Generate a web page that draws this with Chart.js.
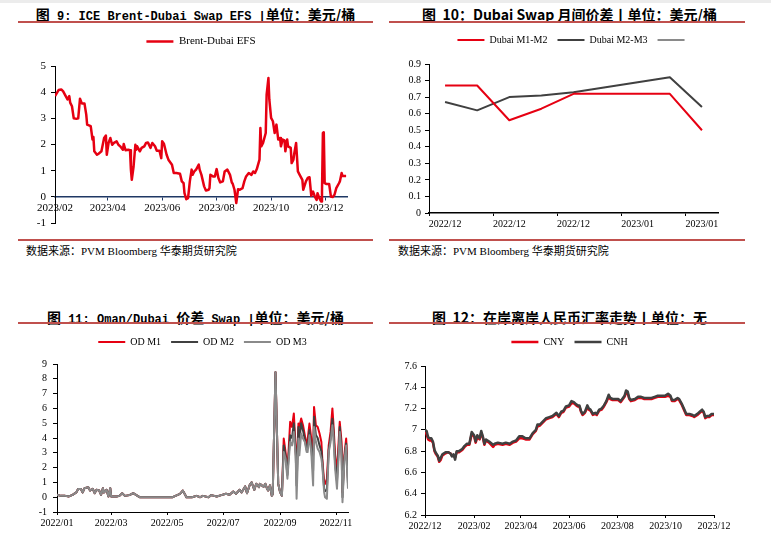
<!DOCTYPE html>
<html>
<head>
<meta charset="utf-8">
<script src="https://cdn.jsdelivr.net/npm/chart.js@4.4.1/dist/chart.umd.min.js"></script>
<style>
  html, body { margin: 0; padding: 0; background: #fff; }
  #page { position: relative; width: 771px; height: 537px; overflow: hidden; }
  .topband { position: absolute; left: 0; top: 0; width: 771px; height: 3px; background: #ececec; }
  .title { position: absolute; white-space: nowrap; text-align: center; color: #000; height: 18px; line-height: 18px; }
  .mono { font: bold 12px "Liberation Mono", "DejaVu Sans Mono", monospace; }
  .zh { font: bold 14px "Noto Sans CJK SC", sans-serif; }
  .rule { position: absolute; height: 2px; background: #c0504d; }
  .src { position: absolute; font: 11px "Liberation Serif", "Noto Sans CJK SC", serif; color: #000; white-space: nowrap; line-height: 14px; }
  .box { position: absolute; }
</style>
</head>
<body>
<div id="page">
  <div class="topband"></div>

  <div class="title mono" style="left:18px;top:4px;width:355px;"><span class="zh">图</span> 9: ICE Brent-Dubai Swap EFS |<span class="zh">单位：美元/桶</span></div>
  <div class="rule" style="left:18px;top:21px;width:355px;"></div>
  <div class="box" style="left:18px;top:26px;width:355px;height:210px;"><canvas id="efsChart"></canvas></div>
  <div class="rule" style="left:18px;top:239px;width:355px;"></div>
  <div class="src" style="left:26px;top:244px;">数据来源：PVM Bloomberg 华泰期货研究院</div>

  <div class="title zh" style="left:389px;top:4px;width:361px;">图&nbsp;&nbsp;10：Dubai Swap 月间价差丨单位：美元/桶</div>
  <div class="rule" style="left:389px;top:21px;width:356px;"></div>
  <div class="box" style="left:389px;top:25px;width:361px;height:211px;"><canvas id="spreadChart"></canvas></div>
  <div class="rule" style="left:389px;top:239px;width:356px;"></div>
  <div class="src" style="left:398px;top:244px;">数据来源：PVM Bloomberg 华泰期货研究院</div>

  <div class="title mono" style="left:18px;top:307px;width:355px;"><span class="zh">图</span> 11: Oman/Dubai <span class="zh">价差</span> Swap |<span class="zh">单位：美元/桶</span></div>
  <div class="rule" style="left:18px;top:322px;width:355px;"></div>
  <div class="box" style="left:18px;top:327px;width:355px;height:210px;"><canvas id="odChart"></canvas></div>

  <div class="title zh" style="left:389px;top:307px;width:361px;">图&nbsp;&nbsp;12：在岸离岸人民币汇率走势丨单位：无</div>
  <div class="rule" style="left:389px;top:322px;width:356px;"></div>
  <div class="box" style="left:389px;top:327px;width:361px;height:210px;"><canvas id="fxChart"></canvas></div>
</div>

<script>
// 图 9: ICE Brent-Dubai EFS
const efsDates = [
  '2023-02-01','2023-02-05','2023-02-08','2023-02-10','2023-02-13','2023-02-15','2023-02-17','2023-02-18','2023-02-20','2023-02-22',
  '2023-02-25','2023-02-27','2023-03-01','2023-03-03','2023-03-06','2023-03-08','2023-03-09','2023-03-13','2023-03-15','2023-03-16',
  '2023-03-17','2023-03-20','2023-03-22','2023-03-25','2023-03-28','2023-03-30','2023-03-31','2023-04-02','2023-04-04','2023-04-06',
  '2023-04-08','2023-04-11','2023-04-13','2023-04-15','2023-04-18','2023-04-19','2023-04-21','2023-04-24','2023-04-26','2023-04-27',
  '2023-04-28','2023-04-30','2023-05-02','2023-05-03','2023-05-04','2023-05-07','2023-05-09','2023-05-12','2023-05-14','2023-05-16',
  '2023-05-19','2023-05-21','2023-05-24','2023-05-26','2023-05-29','2023-05-31','2023-06-01','2023-06-03','2023-06-06','2023-06-08',
  '2023-06-12','2023-06-14','2023-06-17','2023-06-21','2023-06-23','2023-06-25','2023-06-26','2023-06-28','2023-06-30','2023-07-02',
  '2023-07-04','2023-07-05','2023-07-07','2023-07-09','2023-07-12','2023-07-13','2023-07-15','2023-07-18','2023-07-20','2023-07-23',
  '2023-07-24','2023-07-25','2023-07-28','2023-07-30','2023-08-01','2023-08-03','2023-08-05','2023-08-08','2023-08-10','2023-08-13',
  '2023-08-16','2023-08-18','2023-08-19','2023-08-21','2023-08-23','2023-08-25','2023-08-27','2023-08-30','2023-09-01','2023-09-03',
  '2023-09-06','2023-09-09','2023-09-11','2023-09-13','2023-09-15','2023-09-18','2023-09-19','2023-09-20','2023-09-22','2023-09-25',
  '2023-09-26','2023-09-28','2023-09-29','2023-10-01','2023-10-03','2023-10-05','2023-10-07','2023-10-09','2023-10-11','2023-10-12',
  '2023-10-14','2023-10-16','2023-10-17','2023-10-19','2023-10-20','2023-10-23','2023-10-24','2023-10-26','2023-10-27','2023-10-29',
  '2023-10-31','2023-11-02','2023-11-05','2023-11-06','2023-11-09','2023-11-11','2023-11-13','2023-11-15','2023-11-17','2023-11-19',
  '2023-11-21','2023-11-22','2023-11-24','2023-11-26','2023-11-27','2023-11-28','2023-11-29','2023-11-30','2023-12-02','2023-12-05',
  '2023-12-07','2023-12-09','2023-12-11','2023-12-13','2023-12-16','2023-12-17','2023-12-19','2023-12-20','2023-12-24'
];
const efsValues = [
  3.85, 4.08, 4.10, 4.04, 3.85, 3.72, 3.85, 3.60, 3.46, 3.00,
  2.98, 3.00, 3.75, 3.57, 3.57, 3.14, 2.76, 2.70, 2.19, 2.29,
  1.74, 1.61, 1.65, 1.74, 2.25, 2.34, 1.61, 2.06, 2.25, 1.99,
  2.06, 2.12, 1.99, 1.93, 1.80, 2.02, 1.78, 1.80, 1.78, 1.04,
  0.65, 1.16, 1.99, 1.80, 1.93, 1.74, 1.87, 1.93, 2.06, 2.08,
  1.87, 2.06, 1.93, 1.76, 1.76, 1.48, 2.12, 2.03, 1.61, 1.42,
  1.23, 0.91, 0.91, 0.88, 0.59, 0.52, 0.14, -0.09, -0.05, 0.59,
  1.04, 0.84, 0.97, 1.04, 1.23, 1.04, 0.84, 0.40, 0.24, 0.27,
  0.33, 0.84, 0.78, 0.78, 1.06, 0.72, 0.55, 0.59, 0.97, 1.04,
  0.84, 0.55, 0.50, 0.27, -0.24, 0.29, 0.27, 0.33, 0.59, 0.78,
  0.91, 0.84, 0.97, 0.91, 1.06, 1.42, 2.63, 1.93, 2.06, 2.44,
  3.91, 4.54, 3.72, 3.02, 2.89, 2.44, 2.76, 2.19, 2.25, 1.93,
  2.19, 2.16, 1.74, 2.19, 1.93, 1.87, 1.29, 1.42, 1.67, 2.06,
  0.97, 0.84, 0.65, 0.27, 0.59, 0.72, 0.75, 0.04, 0.20, 0.01,
  -0.12, 0.14, -0.05, -0.18, 0.20, 2.44, 2.47, 0.52, 0.49, 0.49,
  0.01, -0.01, 0.08, 0.33, 0.52, 0.59, 0.91, 0.80, 0.80
];
const efsTicks = ['2023/02', '2023/04', '2023/06', '2023/08', '2023/10', '2023/12'];

// 图 10: Dubai Swap 月间价差
const spreadLabels = ['2022/12', '2022/12', '2022/12', '2022/12', '2022/12', '2023/01', '2023/01', '2023/01', '2023/01'];
const dubaiM1M2 = [0.77, 0.77, 0.56, 0.63, 0.72, 0.72, 0.72, 0.72, 0.50];
const dubaiM2M3 = [0.67, 0.62, 0.70, 0.71, 0.73, 0.76, 0.79, 0.82, 0.64];

// 图 11: Oman/Dubai 价差 Swap (the three months overlap until early September)
const odSharedDates = [
  '2022-01-01','2022-01-05','2022-01-10','2022-01-14','2022-01-18','2022-01-22','2022-01-24','2022-01-27','2022-01-29','2022-01-31',
  '2022-02-04','2022-02-06','2022-02-09','2022-02-11','2022-02-13','2022-02-16','2022-02-18','2022-02-20','2022-02-21','2022-02-24',
  '2022-02-26','2022-02-28','2022-03-01','2022-03-07','2022-03-10','2022-03-13','2022-03-16','2022-03-21','2022-03-25','2022-03-28',
  '2022-04-01','2022-04-12','2022-04-26','2022-05-07','2022-05-10','2022-05-15','2022-05-18','2022-05-20','2022-05-22','2022-05-28',
  '2022-06-02','2022-06-06','2022-06-09','2022-06-15','2022-06-18','2022-06-24','2022-06-29','2022-07-04','2022-07-08','2022-07-12',
  '2022-07-15','2022-07-19','2022-07-21','2022-07-25','2022-07-27','2022-07-30','2022-08-01','2022-08-04','2022-08-06','2022-08-09',
  '2022-08-10','2022-08-14','2022-08-16','2022-08-18','2022-08-19','2022-08-21','2022-08-23','2022-08-24','2022-08-27','2022-08-30',
  '2022-09-01','2022-09-03'
];
const odSharedValues = [
  0.16, 0.09, 0.09, 0.05, 0.16, 0.32, 0.55, 0.55, 0.32, 0.61,
  0.68, 0.45, 0.57, 0.27, 0.50, 0.45, 0.16, 0.61, 0.32, 0.50,
  0.05, 0.61, 0.05, 0.05, 0.09, 0.27, 0.09, 0.14, 0.27, 0.16,
  0.00, 0.00, 0.00, 0.00, 0.09, 0.23, 0.45, 0.23, 0.00, 0.00,
  0.09, 0.00, 0.09, 0.00, 0.14, 0.05, 0.14, 0.23, 0.16, 0.39,
  0.23, 0.50, 0.32, 0.73, 0.27, 0.84, 1.00, 0.50, 0.91, 0.68,
  0.90, 0.70, 0.90, 0.55, 0.45, 0.80, 0.10, 0.20, 8.45, 0.90,
  0.35, 0.10
];
const odLateDates = [
  '2022-09-05','2022-09-07','2022-09-09','2022-09-10','2022-09-12','2022-09-14','2022-09-16','2022-09-18','2022-09-19','2022-09-21',
  '2022-09-22','2022-09-24','2022-09-26','2022-09-28','2022-09-30','2022-10-01','2022-10-03','2022-10-05','2022-10-07','2022-10-08',
  '2022-10-10','2022-10-12','2022-10-14','2022-10-16','2022-10-17','2022-10-19','2022-10-20','2022-10-22','2022-10-24','2022-10-26',
  '2022-10-28','2022-10-29','2022-10-31','2022-11-02','2022-11-04','2022-11-05','2022-11-07','2022-11-08','2022-11-10','2022-11-12',
  '2022-11-13','2022-11-14'
];
const odM1Late = [
  3.96, 3.05, 1.80, 2.83, 5.09, 4.75, 5.66, 3.28, 1.70, 4.98,
  4.75, 5.32, 4.86, 4.18, 3.50, 3.85, 4.98, 3.96, 2.83, 6.10,
  4.86, 4.75, 4.30, 3.73, 2.60, 1.02, 0.90, 1.24, 3.50, 4.41,
  6.00, 5.09, 2.83, 1.70, 3.96, 5.09, 3.73, 0.34, 2.83, 3.96,
  2.83, 1.24
];
const odM2Late = [
  3.50, 2.80, 1.50, 2.50, 4.18, 4.00, 5.00, 3.00, 0.80, 4.75,
  3.80, 5.00, 4.50, 3.90, 3.20, 3.40, 4.52, 3.40, 1.80, 5.43,
  4.20, 4.00, 3.50, 3.10, 2.40, 0.60, 0.40, 0.50, 3.20, 4.00,
  5.30, 4.60, 2.30, 1.10, 3.40, 4.75, 3.20, 0.00, 2.60, 3.62,
  2.30, 0.90
];
const odM3Late = [
  3.05, 2.60, 1.25, 2.15, 3.73, 3.50, 4.41, 2.83, -0.11, 3.96,
  2.83, 4.30, 3.96, 3.73, 3.05, 3.05, 4.18, 3.05, 0.79, 4.75,
  3.73, 3.28, 3.05, 2.60, 2.15, 0.34, 0.00, -0.11, 3.05, 3.73,
  4.86, 4.18, 1.92, 0.57, 3.05, 4.41, 2.83, -0.34, 2.38, 3.50,
  1.92, 0.57
];
const odTicks = ['2022/01', '2022/03', '2022/05', '2022/07', '2022/09', '2022/11'];

// 图 12: 在岸离岸人民币汇率
const fxDates = [
  '2022-12-01','2022-12-03','2022-12-05','2022-12-07','2022-12-09','2022-12-11','2022-12-13','2022-12-15','2022-12-17','2022-12-19',
  '2022-12-21','2022-12-23','2022-12-27','2022-12-30','2023-01-02','2023-01-04','2023-01-06','2023-01-08','2023-01-10','2023-01-13',
  '2023-01-17','2023-01-20','2023-01-23','2023-01-26','2023-01-29','2023-02-01','2023-02-03','2023-02-05','2023-02-08','2023-02-10',
  '2023-02-12','2023-02-14','2023-02-16','2023-02-20','2023-02-25','2023-02-27','2023-03-03','2023-03-09','2023-03-13','2023-03-18',
  '2023-03-22','2023-03-26','2023-03-30','2023-04-03','2023-04-07','2023-04-12','2023-04-16','2023-04-20','2023-04-22','2023-04-25',
  '2023-04-29','2023-05-03','2023-05-07','2023-05-11','2023-05-16','2023-05-19','2023-05-22','2023-05-25','2023-05-28','2023-06-01',
  '2023-06-04','2023-06-07','2023-06-10','2023-06-12','2023-06-14','2023-06-16','2023-06-18','2023-06-21','2023-06-24','2023-06-26',
  '2023-06-28','2023-07-01','2023-07-04','2023-07-06','2023-07-09','2023-07-12','2023-07-15','2023-07-18','2023-07-21','2023-07-23',
  '2023-07-26','2023-07-29','2023-08-02','2023-08-05','2023-08-08','2023-08-10','2023-08-12','2023-08-14','2023-08-16','2023-08-18',
  '2023-08-23','2023-08-27','2023-08-31','2023-09-04','2023-09-08','2023-09-13','2023-09-17','2023-09-21','2023-09-25','2023-09-30',
  '2023-10-04','2023-10-07','2023-10-09','2023-10-12','2023-10-16','2023-10-18','2023-10-21','2023-10-24','2023-10-27','2023-10-31',
  '2023-11-04','2023-11-06','2023-11-10','2023-11-13','2023-11-16','2023-11-18','2023-11-20','2023-11-22','2023-11-25','2023-11-28',
  '2023-12-01'
];
const cnh = [
  7.00, 6.99, 6.93, 6.92, 6.92, 6.89, 6.81, 6.78, 6.76, 6.71,
  6.74, 6.77, 6.79, 6.79, 6.78, 6.75, 6.77, 6.72, 6.80, 6.80,
  6.82, 6.85, 6.87, 6.87, 6.98, 6.95, 6.89, 6.95, 6.92, 6.99,
  6.94, 6.87, 6.91, 6.89, 6.86, 6.87, 6.88, 6.87, 6.88, 6.87,
  6.89, 6.90, 6.94, 6.94, 6.92, 6.92, 6.97, 7.00, 7.05, 7.05,
  7.08, 7.11, 7.12, 7.13, 7.16, 7.13, 7.17, 7.18, 7.22, 7.23,
  7.27, 7.26, 7.24, 7.23, 7.23, 7.18, 7.15, 7.17, 7.23, 7.20,
  7.19, 7.15, 7.16, 7.15, 7.19, 7.20, 7.23, 7.27, 7.33, 7.30,
  7.29, 7.29, 7.29, 7.27, 7.30, 7.32, 7.37, 7.36, 7.30, 7.28,
  7.29, 7.31, 7.31, 7.30, 7.30, 7.30, 7.31, 7.32, 7.32, 7.32,
  7.34, 7.32, 7.28, 7.28, 7.30, 7.29, 7.25, 7.20, 7.15, 7.15,
  7.14, 7.13, 7.15, 7.17, 7.19, 7.17, 7.12, 7.13, 7.13, 7.15,
  7.15
];
const cny = [
  6.98, 6.96, 6.91, 6.90, 6.90, 6.88, 6.80, 6.77, 6.75, 6.70,
  6.72, 6.76, 6.78, 6.79, 6.78, 6.76, 6.76, 6.74, 6.79, 6.79,
  6.81, 6.84, 6.86, 6.86, 6.96, 6.94, 6.88, 6.93, 6.91, 6.97,
  6.93, 6.86, 6.90, 6.88, 6.84, 6.86, 6.87, 6.86, 6.87, 6.86,
  6.88, 6.89, 6.92, 6.92, 6.91, 6.91, 6.96, 6.99, 7.03, 7.04,
  7.07, 7.10, 7.11, 7.12, 7.15, 7.12, 7.16, 7.17, 7.21, 7.22,
  7.25, 7.25, 7.23, 7.22, 7.22, 7.17, 7.14, 7.16, 7.21, 7.19,
  7.18, 7.14, 7.15, 7.14, 7.18, 7.19, 7.22, 7.26, 7.31, 7.29,
  7.28, 7.28, 7.28, 7.26, 7.29, 7.31, 7.35, 7.34, 7.29, 7.27,
  7.28, 7.30, 7.30, 7.29, 7.29, 7.29, 7.30, 7.31, 7.31, 7.31,
  7.32, 7.31, 7.27, 7.27, 7.29, 7.28, 7.24, 7.19, 7.14, 7.14,
  7.13, 7.12, 7.14, 7.16, 7.18, 7.16, 7.11, 7.12, 7.12, 7.14,
  7.14
];
const fxTicks = ['2022/12', '2023/02', '2023/04', '2023/06', '2023/08', '2023/10', '2023/12'];

const RED = '#e60012';
const DARK = '#404040';
const GREY = '#8a8a8a';

Chart.defaults.font.family = '"Liberation Serif", "Times New Roman", serif';
Chart.defaults.color = '#000';
Chart.defaults.animation = false;

// '2023-02-01' or '2023/02' -> day number, so the linear x axis spaces dates by calendar time
function toDay(s) {
  const p = s.split(/[-\/]/).map(Number);
  return Date.UTC(p[0], p[1] - 1, p[2] || 1) / 86400000;
}
function points(dates, values) {
  return dates.map((d, i) => ({ x: toDay(d), y: values[i] }));
}

function line(label, data, color, width, order) {
  return {
    label: label, data: data, borderColor: color, backgroundColor: color,
    borderWidth: width, pointRadius: 0, tension: 0, borderJoinStyle: 'round', order: order || 0
  };
}

// legend is not full size, so it is centred over the plot like the original
function legend(size) {
  return {
    position: 'top',
    fullSize: false,
    labels: {
      usePointStyle: true, pointStyle: 'line', pointStyleWidth: 27, padding: 10, color: '#000', font: { size: size },
      sort: (a, b) => a.datasetIndex - b.datasetIndex   // keep dataset order even when draw order differs
    }
  };
}

// empty subtitle placed under the legend, only to keep the gap above the plot
function gap(px) {
  return { display: true, text: '', weight: 500, font: { size: 1, lineHeight: 1 }, padding: { top: px - 1, bottom: 0 } };
}

function dateAxis(tickLabels, min, max, size, height) {
  return {
    type: 'linear',
    min: toDay(min),
    max: toDay(max),
    afterBuildTicks: s => { s.ticks = tickLabels.map(t => ({ value: toDay(t) })); },
    ticks: { autoSkip: false, maxRotation: 0, padding: 2, font: { size: size }, callback: (v, i) => tickLabels[i] },
    grid: { drawOnChartArea: false, tickLength: 3, color: '#000' },
    border: { color: '#000', width: 1 },
    afterFit: s => { if (height) s.height = height; }
  };
}

function valueAxis(min, max, step, size, width, pad) {
  return {
    min: min, max: max,
    ticks: { stepSize: step, autoSkip: false, padding: pad, font: { size: size }, callback: v => String(Math.round(v * 10) / 10) },
    grid: { drawOnChartArea: false, tickLength: 4, color: '#000' },
    border: { color: '#000', width: 1 },
    afterFit: s => { s.width = width; }
  };
}

// 图 9
const efsX = dateAxis(efsTicks, '2023-02-01', '2023-12-25', 11);
efsX.position = { y: 0 };
efsX.border = { color: '#1f3864', width: 1.5 };
efsX.grid.color = '#1f3864';
new Chart(document.getElementById('efsChart'), {
  type: 'line',
  data: { datasets: [line('Brent-Dubai EFS', points(efsDates, efsValues), RED, 2.5)] },
  options: {
    responsive: true, maintainAspectRatio: false,
    layout: { padding: { left: 0, right: 26, top: 0, bottom: 13 } },
    plugins: { legend: legend(11), subtitle: gap(9), tooltip: { enabled: false } },
    scales: { x: efsX, y: valueAxis(-1, 5, 1, 11, 37, 5) }
  }
});

// 图 10
new Chart(document.getElementById('spreadChart'), {
  type: 'line',
  data: {
    labels: spreadLabels,
    datasets: [
      line('Dubai M1-M2', dubaiM1M2, RED, 2),
      line('Dubai M2-M3', dubaiM2M3, DARK, 2),
      line('', [], GREY, 2)
    ]
  },
  options: {
    responsive: true, maintainAspectRatio: false,
    layout: { padding: { left: 0, right: 32, top: 0, bottom: 0 } },
    plugins: { legend: legend(10), subtitle: gap(9), tooltip: { enabled: false } },
    scales: {
      x: {
        type: 'category',
        offset: true,
        ticks: { autoSkip: false, maxRotation: 0, padding: 2, font: { size: 10 }, callback: (v, i) => (i % 2 === 0 ? spreadLabels[i] : '') },
        grid: { offset: true, drawOnChartArea: false, tickLength: 3, color: c => (c.index % 2 === 0 ? '#000' : 'rgba(0,0,0,0)') },
        border: { color: '#000', width: 1.5 },
        afterFit: s => { s.height = 23; }
      },
      y: valueAxis(0, 0.9, 0.1, 10, 40, 4)
    }
  }
});

// 图 11
const odDates = odSharedDates.concat(odLateDates);
new Chart(document.getElementById('odChart'), {
  type: 'line',
  data: {
    datasets: [
      line('OD M1', points(odDates, odSharedValues.concat(odM1Late)), RED, 2, 3),
      line('OD M2', points(odDates, odSharedValues.concat(odM2Late)), DARK, 2, 2),
      line('OD M3', points(odDates, odSharedValues.concat(odM3Late)), GREY, 2, 1)
    ]
  },
  options: {
    responsive: true, maintainAspectRatio: false,
    layout: { padding: { left: 0, right: 25, top: 0, bottom: 0 } },
    plugins: { legend: legend(10), subtitle: gap(7), tooltip: { enabled: false } },
    scales: {
      x: dateAxis(odTicks, '2022-01-01', '2022-11-14', 10, 25),
      y: valueAxis(-1, 9, 1, 10, 39, 6)
    }
  }
});

// 图 12
new Chart(document.getElementById('fxChart'), {
  type: 'line',
  data: {
    datasets: [
      line('CNY', points(fxDates, cny), RED, 2.5, 2),
      line('CNH', points(fxDates, cnh), DARK, 2.5, 1)
    ]
  },
  options: {
    responsive: true, maintainAspectRatio: false,
    layout: { padding: { left: 0, right: 36, top: 0, bottom: 0 } },
    plugins: { legend: legend(10), subtitle: gap(9), tooltip: { enabled: false } },
    scales: {
      x: dateAxis(fxTicks, '2022-12-01', '2023-12-01', 10, 22),
      y: valueAxis(6.2, 7.6, 0.2, 10, 36, 4)
    }
  }
});
</script>
</body>
</html>
